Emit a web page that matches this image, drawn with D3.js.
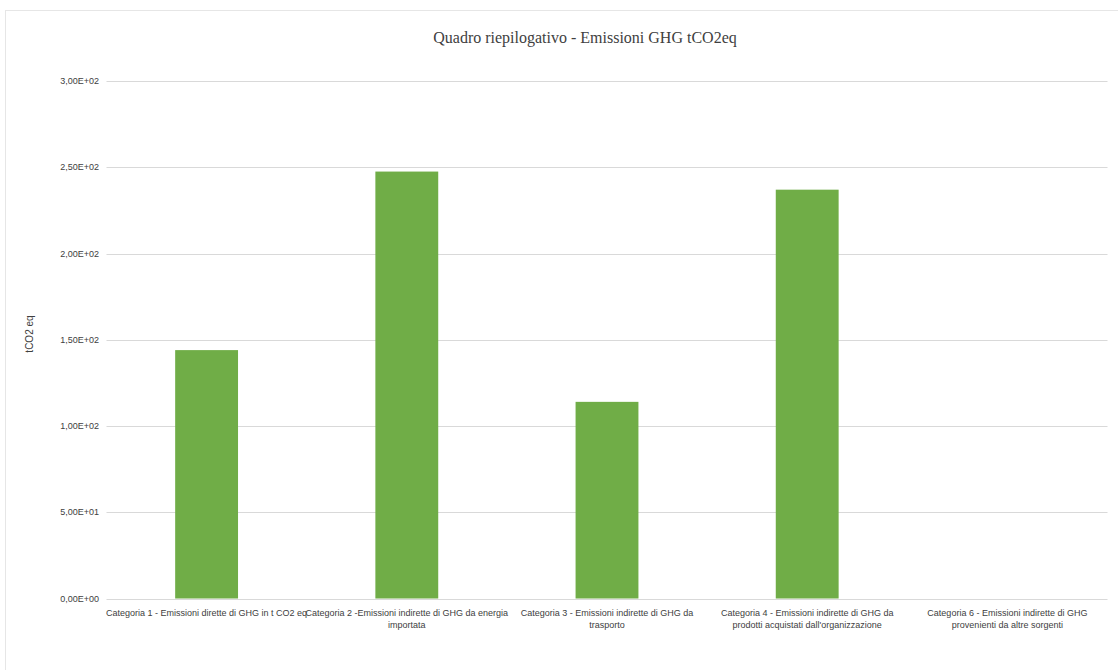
<!DOCTYPE html>
<html lang="it">
<head>
    <meta charset="UTF-8">
    <title>Quadro riepilogativo</title>
    <script src="https://d3js.org/d3.v7.min.js"></script>
    <style>
        body { margin: 0; background: #fff; }
        text { font-family: "Liberation Sans", Arial, sans-serif; }
    </style>
</head>
<body>
    <svg width="1118" height="670"></svg>
    <script>
        // chart data
        const categories = [
            'Categoria 1 - Emissioni dirette di GHG in t CO2 eq',
            'Categoria 2 -Emissioni indirette di GHG da energia\nimportata',
            'Categoria 3 - Emissioni indirette di GHG da\ntrasporto',
            'Categoria 4 - Emissioni indirette di GHG da\nprodotti acquistati dall\'organizzazione',
            'Categoria 6 - Emissioni indirette di GHG\nprovenienti da altre sorgenti'
        ];
        const values = [144, 247.5, 114, 237, 0];
        const yTicks = [0, 50, 100, 150, 200, 250, 300];
        const yTickLabels = ['0,00E+00', '5,00E+01', '1,00E+02', '1,50E+02', '2,00E+02', '2,50E+02', '3,00E+02'];

        const svg = d3.select('svg');

        // outer frame
        svg.append('rect')
            .attr('x', 5.5).attr('y', 10.5)
            .attr('width', 1120).attr('height', 670)
            .attr('fill', 'none')
            .attr('stroke', '#e6e6e6')

        const x = d3.scaleBand()
            .domain(categories)
            .range([106.5, 1107.5])
            .padding(0)

        const y = d3.scaleLinear()
            .domain([0, 300])
            .range([598.5, 81])

        // gridlines
        svg.append('g')
            .selectAll('line')
            .data(yTicks)
            .enter()
            .append('line')
            .attr('x1', 106.5)
            .attr('x2', 1107.5)
            .attr('y1', d => Math.round(y(d)) + 0.5)
            .attr('y2', d => Math.round(y(d)) + 0.5)
            .attr('stroke', '#d9d9d9')
            .attr('stroke-width', 1)

        // y tick labels
        svg.append('g')
            .selectAll('text')
            .data(yTicks)
            .enter()
            .append('text')
            .attr('x', 99)
            .attr('y', d => y(d))
            .attr('dy', '0.35em')
            .attr('text-anchor', 'end')
            .attr('font-size', 9)
            .attr('fill', '#404040')
            .text((d, i) => yTickLabels[i])

        // bars
        const barW = x.bandwidth() * 0.314;
        svg.append('g')
            .selectAll('rect')
            .data(values)
            .enter()
            .append('rect')
            .attr('x', (d, i) => x(categories[i]) + (x.bandwidth() - barW) / 2)
            .attr('y', d => y(d))
            .attr('width', barW)
            .attr('height', d => y(0) - y(d))
            .attr('fill', '#70ad47')

        // category labels
        const labels = svg.append('g')
            .selectAll('text')
            .data(categories)
            .enter()
            .append('text')
            .attr('text-anchor', 'middle')
            .attr('font-size', 9)
            .attr('fill', '#404040')
            .attr('x', d => x(d) + x.bandwidth() / 2)
            .attr('y', 613)
        labels.each(function(d) {
            const el = d3.select(this);
            d.split('\n').forEach((line, i) => {
                el.append('tspan')
                    .attr('x', x(d) + x.bandwidth() / 2)
                    .attr('dy', i === 0 ? '0.35em' : 12)
                    .text(line)
            })
        })

        // y axis title
        svg.append('text')
            .attr('transform', 'translate(33, 334) rotate(-90)')
            .attr('text-anchor', 'middle')
            .attr('font-size', 10)
            .attr('fill', '#404040')
            .text('tCO2 eq')

        // chart title
        svg.append('text')
            .attr('x', 585)
            .attr('y', 37)
            .attr('dy', '0.35em')
            .attr('text-anchor', 'middle')
            .attr('font-size', 16)
            .attr('fill', '#404040')
            .style('font-family', '"Liberation Serif", serif')
            .text('Quadro riepilogativo - Emissioni GHG tCO2eq')
    </script>
</body>
</html>
